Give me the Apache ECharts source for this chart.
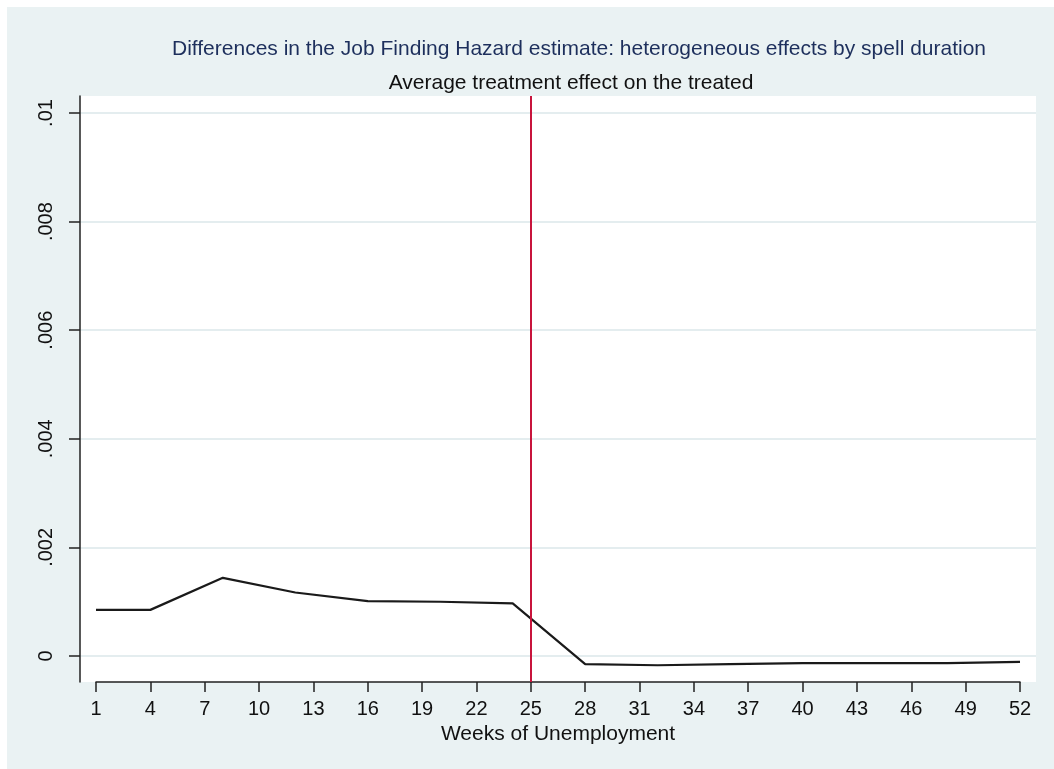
<!DOCTYPE html>
<html>
<head>
<meta charset="utf-8">
<title>Job Finding Hazard – ATT by spell duration</title>
<script src="https://cdn.jsdelivr.net/npm/echarts@6/dist/echarts.min.js"></script>
<style>
  html, body { margin: 0; padding: 0; background: #ffffff; }
  #chart { width: 1054px; height: 769px; }
</style>
</head>
<body>
<div id="chart"></div>
<script>
// Weeks of unemployment at which the effect is estimated
const weeks = [1, 4, 8, 12, 16, 20, 24, 28, 32, 36, 40, 44, 48, 52];
// Average treatment effect on the treated (difference in job finding hazard)
const att = [0.00085, 0.00085, 0.00144, 0.00117, 0.00101, 0.00100, 0.00097,
             -0.00015, -0.00017, -0.00015, -0.00013, -0.00013, -0.00013, -0.00011];
// Axis ticks and labels
const xTicks = [1, 4, 7, 10, 13, 16, 19, 22, 25, 28, 31, 34, 37, 40, 43, 46, 49, 52];
const yTickLabels = ['0', '.002', '.004', '.006', '.008', '.01'];
// Week where the policy threshold lies
const cutoffWeek = 25;

const FONT = "'Liberation Sans', Arial, sans-serif";
const INK = '#111111';
const FS = 20;       // tick labels
const FS_T = 21;     // titles and axis name

// Plot region extents (a little padding beyond the tick range on each side)
const X_MIN = 0.117, X_MAX = 52.883;
const Y_MIN = -0.000479, Y_MAX = 0.010319;

const chart = echarts.init(document.getElementById('chart'), null, { renderer: 'canvas' });

chart.setOption({
  animation: false,
  backgroundColor: '#ffffff',
  graphic: [{
    type: 'rect', z: -100, silent: true,
    shape: { x: 7, y: 7, width: 1047, height: 762 },
    style: { fill: '#EAF2F3' }
  }],
  title: [{
    text: 'Differences in the Job Finding Hazard estimate: heterogeneous effects by spell duration',
    left: 574, top: 34, textAlign: 'center',
    textStyle: { fontFamily: FONT, fontSize: FS_T, fontWeight: 'normal', color: '#1d2f5c' }
  }, {
    text: 'Average treatment effect on the treated',
    left: 566, top: 68, textAlign: 'center',
    textStyle: { fontFamily: FONT, fontSize: FS_T, fontWeight: 'normal', color: INK }
  }],
  grid: [
    // plot region: white panel, y axis line, series
    { left: 80, right: 18, top: 96, bottom: 87, show: true, backgroundColor: '#ffffff', borderWidth: 0, z: -5 },
    // y ticks, labels and gridlines (0 .. .01)
    { left: 80, right: 18, top: 113, bottom: 113 },
    // x axis (weeks 1 .. 52)
    { left: 96, right: 34, top: 96, bottom: 87 }
  ],
  xAxis: [
    { gridIndex: 0, type: 'value', min: X_MIN, max: X_MAX, show: false },
    { gridIndex: 1, type: 'value', min: 0, max: 1, show: false },
    {
      gridIndex: 2, type: 'value', min: 1, max: 52, position: 'bottom',
      name: 'Weeks of Unemployment', nameLocation: 'middle', nameGap: 40,
      nameTextStyle: { fontFamily: FONT, fontSize: FS_T, color: INK },
      axisLine: { show: true, onZero: false, lineStyle: { color: '#222', width: 1.5 } },
      axisTick: { show: true, length: 10, customValues: xTicks, lineStyle: { color: '#222', width: 1.5 } },
      axisLabel: { show: true, customValues: xTicks, margin: 17, fontFamily: FONT, fontSize: FS, color: INK },
      splitLine: { show: false }
    }
  ],
  yAxis: [
    {
      gridIndex: 0, type: 'value', min: Y_MIN, max: Y_MAX,
      axisLine: { show: true, onZero: false, lineStyle: { color: '#222', width: 1.5 } },
      axisTick: { show: false }, axisLabel: { show: false }, splitLine: { show: false }
    },
    {
      gridIndex: 1, type: 'value', min: 0, max: 0.01, interval: 0.002,
      axisLine: { show: false, onZero: false },
      axisTick: { show: true, length: 11, lineStyle: { color: '#222', width: 1.5 } },
      axisLabel: {
        show: true, rotate: 90, margin: 24, fontFamily: FONT, fontSize: FS, color: INK,
        formatter: v => yTickLabels[Math.round(v / 0.002)]
      },
      splitLine: { show: true, lineStyle: { color: '#E4EDEF', width: 2 } }
    },
    { gridIndex: 2, type: 'value', min: Y_MIN, max: Y_MAX, show: false }
  ],
  series: [{
    type: 'line',
    xAxisIndex: 0, yAxisIndex: 0,
    data: weeks.map((w, i) => [w, att[i]]),
    symbol: 'none',
    lineStyle: { color: '#1a1a1a', width: 2.2 },
    z: 3,
    markLine: {
      silent: true, symbol: 'none', animation: false,
      label: { show: false },
      lineStyle: { color: '#C8143C', width: 2, type: 'solid' },
      data: [{ xAxis: cutoffWeek }]
    }
  }]
});
</script>
</body>
</html>
